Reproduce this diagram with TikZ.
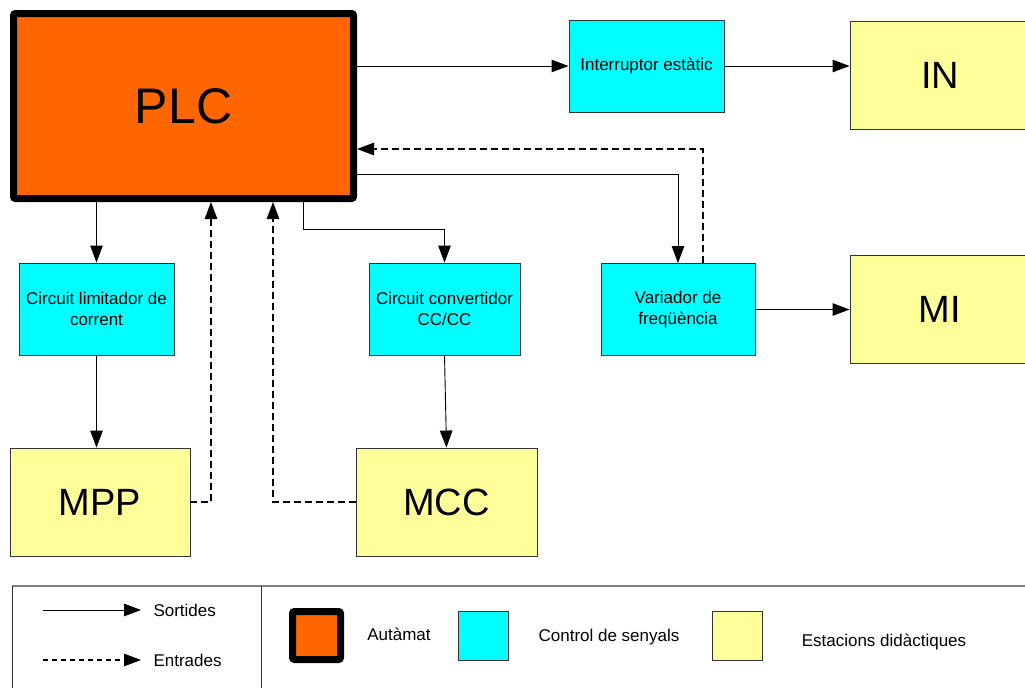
\documentclass[tikz,border=0pt]{standalone}
\usepackage{fontspec}
\setmainfont{Liberation Sans}
\usepackage{tikz}
\usetikzlibrary{positioning, arrows.meta}
\definecolor{plcorange}{RGB}{255,102,0}
\definecolor{ctrlcyan}{RGB}{0,255,255}
\definecolor{stationyellow}{RGB}{255,255,153}
\definecolor{legendgray}{RGB}{128,128,128}

\begin{document}
\begin{tikzpicture}[x=1pt,y=-1pt,
  plc/.style={draw=black, line width=7pt, rounded corners=2pt, fill=plcorange, align=center},
  ctrl/.style={draw=black!80, line width=0.9pt, fill=ctrlcyan, align=center, font=\fontsize{17}{21}\selectfont},
  station/.style={draw=black!80, line width=0.9pt, fill=stationyellow, align=center, font=\fontsize{38}{40}\selectfont},
  note/.style={align=center, font=\fontsize{17}{21}\selectfont},
  sortida/.style={-{Triangle[length=17pt,width=12.5pt]}, line width=0.9pt},
  entrada/.style={-{Triangle[length=17pt,width=12.5pt]}, line width=1.3pt, dash pattern=on 7pt off 4pt}]
  \useasboundingbox (0,0) rectangle (1025,688);

  % blocs
  \node[plc, minimum width=340pt, minimum height=185pt, font=\fontsize{50}{52}\selectfont] (PLC) at (183.5,106) {PLC};
  \node[ctrl, minimum width=155pt, minimum height=92pt] (inter) at (646.5,66) {Interruptor estàtic};
  \node[station, minimum width=180pt, minimum height=108pt] (IN) at (940,75) {IN};
  \node[ctrl, minimum width=155pt, minimum height=92pt] (lim) at (96.5,309) {Circuit limitador de\\corrent};
  \node[ctrl, minimum width=151pt, minimum height=92pt] (conv) at (444.5,309) {Circuit convertidor\\CC/CC};
  \node[ctrl, minimum width=154pt, minimum height=92pt] (var) at (678,309.5) {Variador de\\freqüència};
  \node[station, minimum width=180pt, minimum height=108pt] (MI) at (940,309) {MI};
  \node[station, minimum width=180pt, minimum height=108pt] (MPP) at (100,502) {MPP};
  \node[station, minimum width=181pt, minimum height=108pt] (MCC) at (446.5,502) {MCC};

  % sortides
  \draw[sortida] (PLC.east |- inter.west) -- (inter.west);
  \draw[sortida] (inter.east) -- (inter.east -| IN.west);
  \draw[sortida] ([yshift=-68pt]PLC.east) -| (var.north);
  \draw[sortida] (PLC.south -| lim.north) -- (lim.north);
  \draw[sortida] ([xshift=120pt]PLC.south) -- ++(0,27) -| (conv.north);
  \draw[sortida] (lim.south) -- (lim.south |- MPP.north);
  \draw[sortida] (conv.south) -- (MCC.north);
  \draw[sortida] (var.east) -- (var.east -| MI.west);

  % entrades
  \draw[entrada] ([xshift=25pt]var.north) |- ([yshift=-43pt]PLC.east);
  \draw[entrada] (MPP.east) -| ([xshift=27.5pt]PLC.south);
  \draw[entrada] (MCC.west) -| ([xshift=89.5pt]PLC.south);

  % llegenda
  \draw[legendgray, line width=2pt] (12,586) -- (1025,586);
  \draw[black!80, line width=0.8pt] (12,586) -- (12,688);
  \draw[black!80, line width=0.8pt] (261,586) -- (261,688);

  \coordinate (s0) at (43,610);
  \node[note, anchor=west] (sort) at (150,610) {Sortides};
  \draw[sortida] (s0) -- ([xshift=-9pt]sort.west);
  \coordinate (e0) at (43,660);
  \node[note, anchor=west] (entr) at (150,660) {Entrades};
  \draw[entrada, line width=1.1pt, dash pattern=on 5pt off 4pt] (e0) -- ([xshift=-9pt]entr.west);

  \node[plc, minimum width=48pt, minimum height=48pt] (lplc) at (316.5,635.5) {};
  \node[note] (lplctxt) at (399,634) {Autàmat};
  \node[ctrl, minimum width=50pt, minimum height=49pt] (lctrl) at (483,635.5) {};
  \node[note] (lctrltxt) at (609,637) {Control de senyals};
  \node[station, minimum width=50pt, minimum height=49pt] (lstat) at (737,635.5) {};
  \node[note] (lstattxt) at (884,642) {Estacions didàctiques};
\end{tikzpicture}
\end{document}
